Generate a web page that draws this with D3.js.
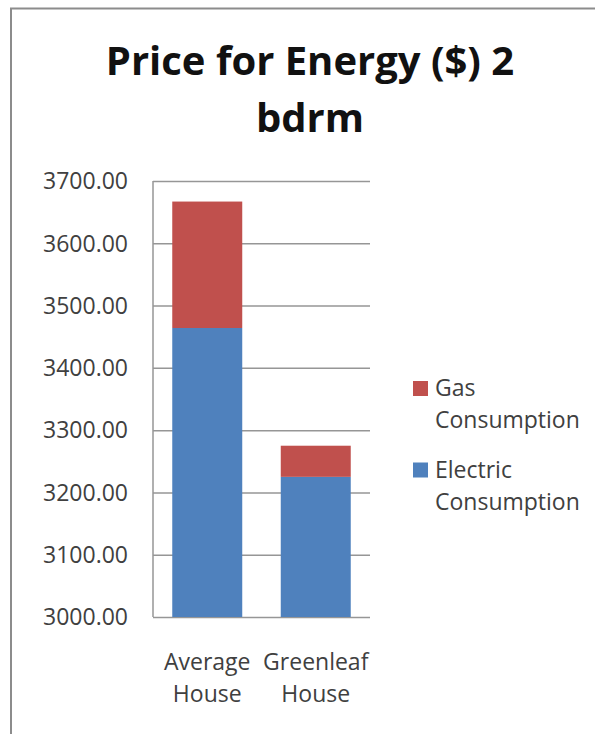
<!DOCTYPE html>
<html>
<head>
<meta charset="utf-8">
<script src="https://cdn.jsdelivr.net/npm/d3@7"></script>
<style>
  html, body { margin: 0; padding: 0; background: #fff; }
  svg { display: block; }
  text { font-family: "Open Sans", "Noto Sans", sans-serif; }
</style>
</head>
<body>
<script>
// Annual energy cost for a 2-bedroom home, split by fuel
const categories = ["Average House", "Greenleaf House"];
const seriesNames = ["Electric Consumption", "Gas Consumption"];
const electricValues = [3464, 3225];
const gasValues = [203, 50];
const yTickValues = [3000, 3100, 3200, 3300, 3400, 3500, 3600, 3700];
const titleLines = ["Price for Energy ($) 2", "bdrm"];
const colors = { "Electric Consumption": "#4F81BD", "Gas Consumption": "#C0504D" };

const W = 595, H = 734;
const svg = d3.select("body").append("svg").attr("width", W).attr("height", H);

// chart frame (runs off the right and bottom edges)
svg.append("rect")
  .attr("x", 11).attr("y", 8.5)
  .attr("width", W + 20).attr("height", H + 20)
  .attr("fill", "#fff")
  .attr("stroke", "#8c8c8c").attr("stroke-width", 2);

// title
svg.append("g").selectAll("text").data(titleLines).join("text")
  .attr("x", 310)
  .attr("y", (d, i) => 75 + i * 57)
  .attr("text-anchor", "middle")
  .attr("font-size", 40)
  .attr("font-weight", 700)
  .attr("fill", "#111")
  .text(d => d);

const plot = { left: 153, right: 370, top: 181, bottom: 617 };

const x = d3.scaleBand()
  .domain(categories)
  .range([plot.left, plot.right])
  .paddingInner(0.355)
  .paddingOuter(0.1775);

const y = d3.scaleLinear()
  .domain([3000, 3700])
  .range([plot.bottom, plot.top]);

// gridlines + tick labels
const yAxis = d3.axisLeft(y)
  .tickValues(yTickValues)
  .tickFormat(d3.format(".2f"))
  .tickSize(-(plot.right - plot.left))
  .tickPadding(25);

const gy = svg.append("g")
  .attr("transform", `translate(${plot.left},0)`)
  .call(yAxis);
gy.select(".domain").remove();
gy.selectAll(".tick line").attr("stroke", "#969696").attr("stroke-width", 1.5);
gy.selectAll(".tick text")
  .attr("font-size", 23)
  .attr("fill", "#404040")
  .attr("font-family", "'Open Sans', sans-serif")
  .attr("dy", "0.34em");

// stacked bars (axis starts at 3000, so segments are clipped at the baseline)
const rows = categories.map((c, i) => ({
  category: c,
  "Electric Consumption": electricValues[i],
  "Gas Consumption": gasValues[i]
}));
const stacked = d3.stack().keys(seriesNames)(rows);
const floor = y.domain()[0];

svg.append("g").selectAll("g").data(stacked).join("g")
  .attr("fill", d => colors[d.key])
  .selectAll("rect").data(d => d).join("rect")
    .attr("x", d => x(d.data.category))
    .attr("width", x.bandwidth())
    .attr("y", d => y(Math.max(d[1], floor)))
    .attr("height", d => y(Math.max(d[0], floor)) - y(Math.max(d[1], floor)));

// vertical axis line
svg.append("line")
  .attr("x1", plot.left).attr("x2", plot.left)
  .attr("y1", plot.top).attr("y2", plot.bottom)
  .attr("stroke", "#969696").attr("stroke-width", 1.5);

// category labels, one word per line
const xAxis = svg.append("g");
categories.forEach(c => {
  const words = c.split(" ");
  xAxis.append("g").selectAll("text").data(words).join("text")
    .attr("x", x(c) + x.bandwidth() / 2)
    .attr("y", (d, i) => 670 + i * 32)
    .attr("text-anchor", "middle")
    .attr("font-size", 23)
    .attr("fill", "#404040")
    .text(d => d);
});

// legend (gas listed first, matching stack order top-down)
const legendItems = seriesNames.slice().reverse();
const legend = svg.append("g").attr("transform", "translate(413,381)");
const item = legend.selectAll("g").data(legendItems).join("g")
  .attr("transform", (d, i) => `translate(0,${i * 81.5})`);
item.append("rect")
  .attr("width", 15).attr("height", 15)
  .attr("fill", d => colors[d]);
item.each(function(d) {
  const words = d.split(" ");
  d3.select(this).selectAll("text").data(words).join("text")
    .attr("x", 22)
    .attr("y", (w, i) => 15 + i * 32.3)
    .attr("font-size", 23)
    .attr("fill", "#404040")
    .text(w => w);
});
</script>
</body>
</html>
